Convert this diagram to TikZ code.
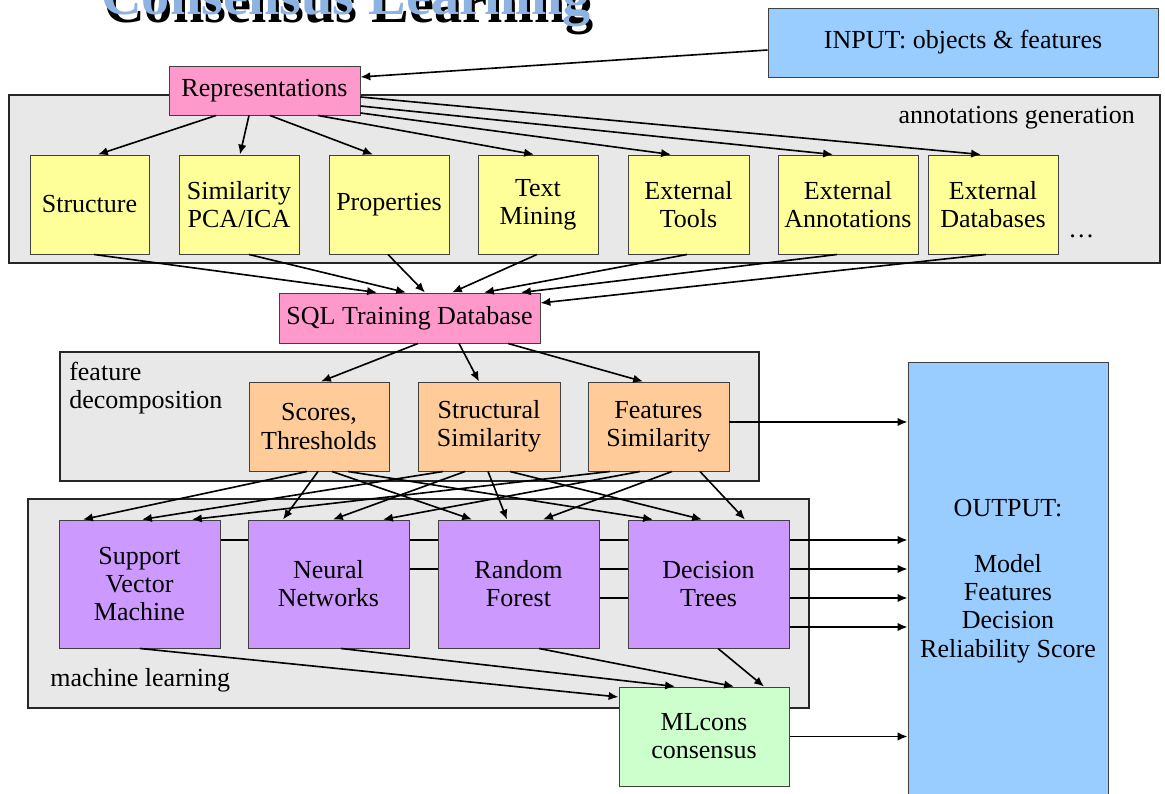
\documentclass[tikz,border=0pt]{standalone}
\usepackage{fontspec}
\setmainfont{Liberation Serif}
\usepackage{xcolor}
\usepackage{tikz}
\usetikzlibrary{arrows.meta,backgrounds,positioning,calc}

\definecolor{titleblue}{HTML}{8DB3E2}
\definecolor{boxpink}{HTML}{FF99CC}
\definecolor{boxyellow}{HTML}{FFFF99}
\definecolor{boxorange}{HTML}{FFCC99}
\definecolor{boxpurple}{HTML}{CC99FF}
\definecolor{boxgreen}{HTML}{CCFFCC}
\definecolor{boxblue}{HTML}{99CCFF}
\definecolor{groupgray}{HTML}{E8E8E8}

\pgfdeclarelayer{back}
\pgfdeclarelayer{mid}
\pgfsetlayers{back,mid,main}

\newcommand{\pxl}{0.025cm}

\tikzset{
  box/.style={draw=black!75, line width=0.7pt, inner sep=1pt, align=center,
    font=\fontsize{18.5}{20}\selectfont},
  ybox/.style={box, fill=boxyellow, minimum height=99*\pxl},
  obox/.style={box, fill=boxorange, minimum height=89*\pxl},
  pbox/.style={box, fill=boxpurple, minimum height=128*\pxl, minimum width=161*\pxl},
  group/.style={fill=groupgray, draw=black!85, line width=1.2pt},
  grouplabel/.style={inner sep=0pt, align=left, font=\fontsize{18.5}{20}\selectfont},
  arr/.style={-{Latex[length=7pt,width=6pt]}, line width=1.15pt}
}

\begin{document}
\begin{tikzpicture}[x=\pxl, y=-\pxl]
  \useasboundingbox (0,0) rectangle (1165,794);
  \clip (0,0) rectangle (1165,794);

  % title, cut at the top
  \node[anchor=base west, inner sep=0pt, text=black,
    font=\fontsize{40}{40}\selectfont\bfseries] (titleshadow) at (104,23) {Consensus Learning};
  \node[anchor=base west, inner sep=0pt, text=titleblue,
    font=\fontsize{40}{40}\selectfont\bfseries] (title) at (101,15) {Consensus Learning};

  % groups
  \begin{pgfonlayer}{back}
    \draw[group] (9,95) rectangle (1160,263);
    \draw[group] (60,352) rectangle (759,481);
    \draw[group] (28,499) rectangle (809,708);
  \end{pgfonlayer}
  \node[grouplabel, anchor=east] (lannot) at (1135,118) {annotations generation};
  \node[grouplabel, anchor=west] (lfeat) at (69,388) {feature\\decomposition};
  \node[grouplabel, anchor=west] (lml) at (50,680) {machine learning};
  \node[grouplabel, anchor=west] (more) at (1068,236) {\ldots};

  \node[box, fill=boxblue, minimum width=390*\pxl, minimum height=69*\pxl] (inp) at (963,42.5) {INPUT: objects \& features};
  \node[box, fill=boxpink, minimum width=191*\pxl, minimum height=49*\pxl] (rep) at (264.5,90.5) {Representations};

  \node[ybox, minimum width=119*\pxl] (str) at (89.5,204.5) {Structure};
  \node[ybox, minimum width=120*\pxl] (sim) at (239,204.5) {Similarity\\PCA/ICA};
  \node[ybox, minimum width=120*\pxl] (prop) at (389,204.5) {Properties};
  \node[ybox, minimum width=120*\pxl] (txt) at (538,204.5) {Text\\Mining};
  \node[ybox, minimum width=121*\pxl] (tools) at (688.5,204.5) {External\\Tools};
  \node[ybox, minimum width=140*\pxl] (ann) at (848,204.5) {External\\Annotations};
  \node[ybox, minimum width=130*\pxl] (db) at (993,204.5) {External\\Databases};

  \node[box, fill=boxpink, minimum width=261*\pxl, minimum height=50*\pxl] (sql) at (409.5,318) {SQL Training Database};

  \node[obox, minimum width=140*\pxl] (sc) at (319,426.5) {Scores,\\Thresholds};
  \node[obox, minimum width=142*\pxl] (ss) at (489,426.5) {Structural\\Similarity};
  \node[obox, minimum width=141*\pxl] (fs) at (658.5,426.5) {Features\\Similarity};

  \node[pbox] (svm) at (139.5,584) {Support\\Vector\\Machine};
  \node[pbox] (nn) at (328.5,584) {Neural\\Networks};
  \node[pbox] (rf) at (518.5,584) {Random\\Forest};
  \node[pbox] (dt) at (708.5,584) {Decision\\Trees};

  \node[box, fill=boxgreen, minimum width=170*\pxl, minimum height=99*\pxl] (ml) at (704,736.5) {MLcons\\consensus};
  \node[box, fill=boxblue, minimum width=200*\pxl, minimum height=438*\pxl] (out) at (1008,581)
    {OUTPUT:\\[20pt]Model\\Features\\Decision\\Reliability Score};

  % input to representations
  \draw[arr] (inp.west |- 0,50) -- (rep.east |- 0,77);
  \draw[arr] (rep.south -| 216,0) -- (str.north -| 98,0);
  \draw[arr] (rep.south -| 249,0) -- (sim.north -| 240,0);
  \draw[arr] (rep.south -| 270,0) -- (prop.north -| 373,0);
  \draw[arr] (rep.south -| 318,0) -- (txt.north -| 534,0);
  \draw[arr] (rep.east |- 0,113) -- (tools.north -| 671,0);
  \draw[arr] (rep.east |- 0,106) -- (ann.north -| 833,0);
  \draw[arr] (rep.east |- 0,97) -- (db.north -| 981,0);

  % annotations into the database
  \foreach \src/\xs/\xd in {str/94/377, sim/249/406, prop/388/425, txt/537/452, tools/687/484, ann/837/521}
    \draw[arr] (\src.south -| \xs,0) -- (sql.north -| \xd,0);
  \draw[arr] (db.south -| 986,0) -- (sql.east |- 0,303);

  \draw[arr] (sql.south -| 418,0) -- (sc.north -| 321,0);
  \draw[arr] (sql.south -| 459,0) -- (ss.north -| 479,0);
  \draw[arr] (sql.south -| 508,0) -- (fs.north -| 643,0);
  \draw[arr] (fs.east |- 0,422) -- (out.west |- 0,422);

  % every feature set into every learner
  \foreach \src/\xs/\dst/\xd in {sc/307/svm/83, sc/318/nn/283, sc/332/rf/472, sc/348/dt/653,
      ss/443/svm/142, ss/465/nn/333, ss/488/rf/507, ss/510/dt/702,
      fs/610/svm/192, fs/640/nn/383, fs/672/rf/543, fs/700/dt/745}
    \draw[arr] (\src.south -| \xs,0) -- (\dst.north -| \xd,0);

  % learners to output, behind the boxes
  \begin{pgfonlayer}{mid}
    \foreach \src/\yy in {svm/540, nn/569, rf/598, dt/627}
      \draw[arr] (\src.east |- 0,\yy) -- (out.west |- 0,\yy);
  \end{pgfonlayer}

  \draw[arr] (svm.south -| 140,0) -- (ml.west |- 0,697);
  \draw[arr] (nn.south -| 341,0) -- (ml.north -| 675,0);
  \draw[arr] (rf.south -| 539,0) -- (ml.north -| 734,0);
  \draw[arr] (dt.south -| 718,0) -- (ml.north -| 764,0);
  \draw[arr] (ml.east) -- (out.west |- ml.east);
\end{tikzpicture}
\end{document}
